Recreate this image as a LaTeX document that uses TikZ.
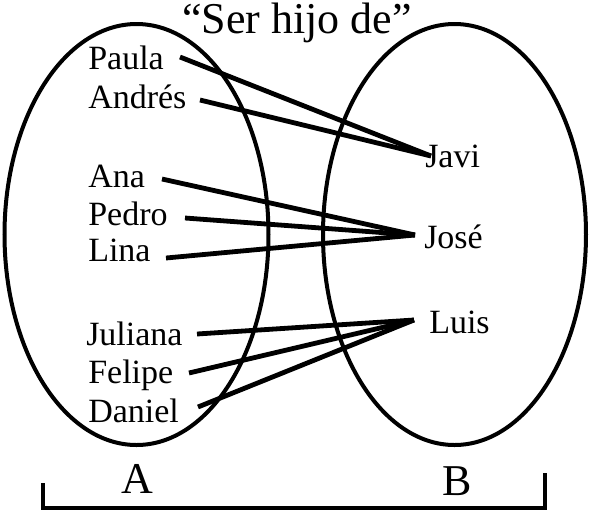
\documentclass[tikz,border=0pt]{standalone}
\usepackage{fontspec}
\setmainfont{Liberation Serif}
\begin{document}
\begin{tikzpicture}[x=0.75pt,y=-0.75pt,
  setline/.style={line width=3pt},
  conn/.style={line width=3.6pt},
  brack/.style={line width=3.6pt,line join=miter},
  person/.style={inner sep=0pt,anchor=base west,font=\fontsize{25.5pt}{30pt}\selectfont},
  bigtext/.style={inner sep=0pt,anchor=base,font=\fontsize{33pt}{38pt}\selectfont}]
\useasboundingbox (0,0) rectangle (590,512);
% sets
\draw[setline] (136.5,234.5) ellipse [x radius=132, y radius=210.5];
\draw[setline] (454.5,234.5) ellipse [x radius=131.5, y radius=210.5];
% title and set names
\node[bigtext] (title) at (297,33) {“Ser hijo de”};
\node[bigtext] (A) at (137,493) {A};
\node[bigtext] (B) at (457,495) {B};
% domain
\node[person] (paula) at (88,69) {Paula};
\node[person] (andres) at (88,108) {Andrés};
\node[person] (ana) at (88,187) {Ana};
\node[person] (pedro) at (88,225) {Pedro};
\node[person] (lina) at (88,261) {Lina};
\node[person] (juliana) at (86,345) {Juliana};
\node[person] (felipe) at (88,383) {Felipe};
\node[person] (daniel) at (88,422) {Daniel};
% codomain
\node[person] (javi) at (425,167) {Javi};
\node[person] (jose) at (424,248) {José};
\node[person] (luis) at (429,333) {Luis};
% connector ends
\coordinate (sPaula) at (180,57);
\coordinate (sAndres) at (200,100);
\coordinate (sAna) at (162,179);
\coordinate (sPedro) at (185,218);
\coordinate (sLina) at (166,258);
\coordinate (sJuliana) at (197,334);
\coordinate (sFelipe) at (189,373);
\coordinate (sDaniel) at (198,407);
\coordinate (eJavi) at (431,156);
\coordinate (eJose) at (415,235);
\coordinate (eLuis) at (414,320);
\draw[conn] (sPaula) -- (eJavi);
\draw[conn] (sAndres) -- (eJavi);
\draw[conn] (sAna) -- (eJose);
\draw[conn] (sPedro) -- (eJose);
\draw[conn] (sLina) -- (eJose);
\draw[conn] (sJuliana) -- (eLuis);
\draw[conn] (sFelipe) -- (eLuis);
\draw[conn] (sDaniel) -- (eLuis);
% bracket
\coordinate (bl) at (43,483);
\coordinate (br) at (545,473);
\coordinate (bb) at (545,508);
\draw[brack] (bl) |- (bb) -- (br);
\end{tikzpicture}
\end{document}
